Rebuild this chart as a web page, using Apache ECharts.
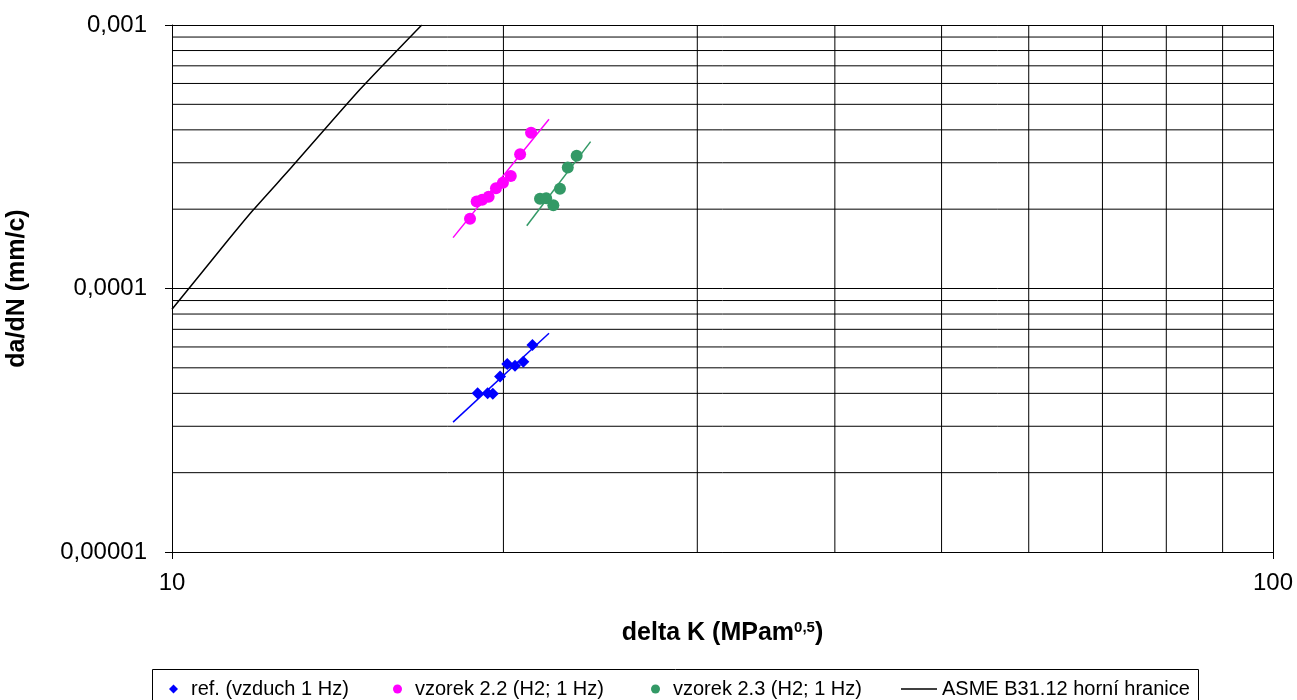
<!DOCTYPE html>
<html>
<head>
<meta charset="utf-8">
<script src="https://cdn.jsdelivr.net/npm/echarts@6/dist/echarts.min.js"></script>
<style>
html,body{margin:0;padding:0;background:#fff;}
#c{width:1297px;height:700px;}
</style>
</head>
<body>
<div id="c"></div>
<script>
// ---- data ----
const refX = [18.95, 19.35, 19.56, 19.86, 20.16, 20.49, 20.85, 21.25];
const refY = [4.00e-5, 4.00e-5, 3.99e-5, 4.63e-5, 5.17e-5, 5.09e-5, 5.27e-5, 6.10e-5];
const v22X = [18.65, 18.91, 19.13, 19.39, 19.69, 19.98, 20.31, 20.71, 21.19];
const v22Y = [1.84e-4, 2.14e-4, 2.17e-4, 2.23e-4, 2.40e-4, 2.52e-4, 2.67e-4, 3.23e-4, 3.90e-4];
const v23X = [21.59, 21.87, 22.20, 22.51, 22.88, 23.31];
const v23Y = [2.19e-4, 2.20e-4, 2.07e-4, 2.39e-4, 2.88e-4, 3.19e-4];
const refTrendX = [18.0, 22.0];
const refTrendY = [3.11e-5, 6.76e-5];
const v22TrendX = [18.0, 22.0];
const v22TrendY = [1.56e-4, 4.39e-4];
const v23TrendX = [21.0, 24.0];
const v23TrendY = [1.73e-4, 3.61e-4];
const asmeX = [10.0, 11.17, 11.85, 12.84, 14.82, 16.86];
const asmeY = [8.34e-5, 1.475e-4, 1.985e-4, 2.884e-4, 5.70e-4, 1.0e-3];
const minorX = [20, 30, 40, 50, 60, 70, 80, 90];
const minorY = [2e-5,3e-5,4e-5,5e-5,6e-5,7e-5,8e-5,9e-5,2e-4,3e-4,4e-4,5e-4,6e-4,7e-4,8e-4,9e-4];
const xRange = [10, 100];
const yRange = [1e-5, 1e-3];
const yTickLabels = {'0.00001':'0,00001','0.0001':'0,0001','0.001':'0,001'};
const names = ['ref. (vzduch 1 Hz)', 'vzorek 2.2 (H2; 1 Hz)', 'vzorek 2.3 (H2; 1 Hz)', 'ASME B31.12 horní hranice'];

const zip = (a, b) => a.map((v, i) => [v, b[i]]);
const FONT = 'Liberation Sans, Arial, sans-serif';

const gridSeries = [];
minorX.forEach(v => gridSeries.push({
  type: 'line', data: [[v, yRange[0]], [v, yRange[1]]], symbol: 'none', silent: true, z: 1,
  lineStyle: {color: '#000', width: 1}, animation: false
}));
minorY.forEach(v => gridSeries.push({
  type: 'line', data: [[xRange[0], v], [xRange[1], v]], symbol: 'none', silent: true, z: 1,
  lineStyle: {color: '#000', width: 1}, animation: false
}));

const chart = echarts.init(document.getElementById('c'), null, {renderer: 'canvas'});
const legendBase = {
  orient: 'horizontal', top: 674, itemGap: 0,
  textStyle: {fontFamily: FONT, fontSize: 20, color: '#000'},
  selectedMode: false
};
chart.setOption({
  animation: false,
  backgroundColor: '#fff',
  grid: {left: 172, right: 24, top: 25, bottom: 148, containLabel: false, outerBoundsMode: 'none'},
  xAxis: {
    type: 'log', logBase: 10, min: xRange[0], max: xRange[1],
    name: 'delta K (MPam{sup|0,5})',
    nameLocation: 'middle', nameGap: 68,
    nameTextStyle: {
      fontFamily: FONT, fontSize: 25, fontWeight: 'bold', color: '#000',
      rich: {sup: {fontFamily: FONT, fontSize: 15, fontWeight: 'bold', color: '#000', padding: [0,0,11,0]}}
    },
    axisLine: {show: true, onZero: false, lineStyle: {color: '#000', width: 1}},
    axisTick: {show: true, length: 7, lineStyle: {color: '#000'}},
    axisLabel: {fontFamily: FONT, fontSize: 24, color: '#000', margin: 19},
    splitLine: {show: true, lineStyle: {color: '#000', width: 1}}
  },
  yAxis: {
    type: 'log', logBase: 10, min: yRange[0], max: yRange[1],
    name: 'da/dN (mm/c)',
    nameLocation: 'middle', nameGap: 142, nameRotate: 90,
    nameTextStyle: {fontFamily: FONT, fontSize: 25, fontWeight: 'bold', color: '#000'},
    axisLine: {show: true, onZero: false, lineStyle: {color: '#000', width: 1}},
    axisTick: {show: true, length: 7, lineStyle: {color: '#000'}},
    axisLabel: {
      fontFamily: FONT, fontSize: 24, color: '#000', margin: 25,
      formatter: function (v) {
        const k = String(+v.toPrecision(6));
        return yTickLabels[k] !== undefined ? yTickLabels[k] : k.replace('.', ',');
      }
    },
    splitLine: {show: true, lineStyle: {color: '#000', width: 1}}
  },
  legend: [
    Object.assign({}, legendBase, {left: 164, data: [{name: names[0], icon: 'diamond'}], itemWidth: 9, itemHeight: 9,
      textStyle: Object.assign({}, legendBase.textStyle, {padding: [0,0,0,8]})}),
    Object.assign({}, legendBase, {left: 388, data: [{name: names[1], icon: 'circle'}], itemWidth: 9, itemHeight: 9,
      textStyle: Object.assign({}, legendBase.textStyle, {padding: [0,0,0,8]})}),
    Object.assign({}, legendBase, {left: 646, data: [{name: names[2], icon: 'circle'}], itemWidth: 9, itemHeight: 9,
      textStyle: Object.assign({}, legendBase.textStyle, {padding: [0,0,0,8]})}),
    Object.assign({}, legendBase, {left: 896, data: [{name: names[3], icon: 'rect'}], itemWidth: 36, itemHeight: 1.5})
  ],
  graphic: [{
    type: 'rect', left: 150, top: 667, silent: true,
    shape: {width: 1046, height: 40},
    style: {fill: 'none', stroke: '#000', lineWidth: 1}
  }],
  series: gridSeries.concat([
    {name: 'ref-trend', type: 'line', data: zip(refTrendX, refTrendY), showSymbol: false, symbol: 'none',
      lineStyle: {color: '#0000FF', width: 1.5}, z: 3, silent: true},
    {name: 'v22-trend', type: 'line', data: zip(v22TrendX, v22TrendY), showSymbol: false, symbol: 'none',
      lineStyle: {color: '#FF00FF', width: 1.5}, z: 3, silent: true},
    {name: 'v23-trend', type: 'line', data: zip(v23TrendX, v23TrendY), showSymbol: false, symbol: 'none',
      lineStyle: {color: '#339966', width: 1.5}, z: 3, silent: true},
    {name: names[0], type: 'scatter', data: zip(refX, refY), symbol: 'diamond', symbolSize: 12,
      itemStyle: {color: '#0000FF', opacity: 1}, z: 5},
    {name: names[1], type: 'scatter', data: zip(v22X, v22Y), symbol: 'circle', symbolSize: 12,
      itemStyle: {color: '#FF00FF', opacity: 1}, z: 5},
    {name: names[2], type: 'scatter', data: zip(v23X, v23Y), symbol: 'circle', symbolSize: 12,
      itemStyle: {color: '#339966', opacity: 1}, z: 5},
    {name: names[3], type: 'line', data: zip(asmeX, asmeY), showSymbol: false, symbol: 'none', smooth: 0.2,
      lineStyle: {color: '#000', width: 1.5}, itemStyle: {color: '#000'}, z: 4}
  ])
});
</script>
</body>
</html>
